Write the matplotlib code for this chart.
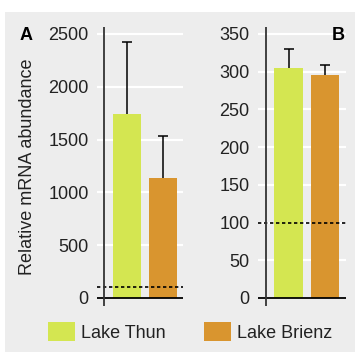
import matplotlib
matplotlib.use("Agg")
import matplotlib.pyplot as plt
from matplotlib.patches import Patch, Rectangle

plt.rcParams['font.family'] = ['Liberation Sans', 'DejaVu Sans']

lakes = ["Lake Thun", "Lake Brienz"]
colors = ["#d4e651", "#d9952f"]

# panel A: mean and upper error
a_mean = [1742, 1140]
a_err = [682, 394]
a_ticks = [0, 500, 1000, 1500, 2000, 2500]

# panel B
b_mean = [305, 296]
b_err = [25, 13]
b_ticks = [0, 50, 100, 150, 200, 250, 300, 350]

baseline = 100

W, H = 355, 352
fig = plt.figure(figsize=(W / 100, H / 100), dpi=100)
fig.patch.set_facecolor("white")
fig.patches.append(Rectangle((5 / W, 0), 1 - 5 / W, 1 - 12 / H,
                             transform=fig.transFigure, facecolor="#ededed",
                             edgecolor="none", zorder=-10))


def panel(rect, means, errs, ticks, ylim, xlim, spine_x, letter, letter_x):
    ax = fig.add_axes([rect[0] / W, 1 - rect[3] / H, (rect[2] - rect[0]) / W,
                       (rect[3] - rect[1]) / H])
    ax.set_facecolor("none")
    for s in ax.spines.values():
        s.set_visible(False)
    ax.set_ylim(*ylim)
    ax.set_xlim(*xlim)
    for t in ticks[1:]:
        ax.axhline(t, color="white", lw=1.6, zorder=1)
    ax.bar(range(len(means)), means, width=0.78, color=colors, zorder=2)
    eb = ax.errorbar(range(len(means)), means, yerr=[[0] * len(errs), errs],
                     fmt="none", ecolor="black", elinewidth=1.1, capsize=3.5,
                     capthick=1.1, zorder=3)
    # only the upper whisker gets a cap
    eb[1][0].set_visible(False)
    ax.axhline(baseline, color="black", lw=1.2, ls=(0, (2, 1.6)), zorder=4)
    ax.axhline(0, color="black", lw=1.3, zorder=4)
    ax.axvline(spine_x, color="#333333", lw=1.3, zorder=4)
    ax.set_xticks([])
    ax.set_yticks(ticks)
    ax.set_yticklabels([str(t) for t in ticks])
    ax.tick_params(axis="y", length=0, pad=6, labelsize=13, labelcolor="#222222")
    fig.text(letter_x / W, 1 - 36 / H, letter, fontsize=13, fontweight="bold",
             ha="left", va="center")
    return ax


axA = panel((97, 27, 183, 306), a_mean, a_err, a_ticks, (-76, 2566),
            (-0.833, 1.556), -0.639, "A", 20)
axA.set_ylabel("Relative mRNA abundance", fontsize=13, color="#222222", labelpad=8.5)

axB = panel((258, 27, 346, 306), b_mean, b_err, b_ticks, (-10.6, 359),
            (-0.836, 1.575), -0.616, "B", 332)

handles = [Patch(facecolor=c, edgecolor="none") for c in colors]
fig.legend(handles, lakes, loc="center", bbox_to_anchor=(190 / W, 1 - 332 / H),
           ncol=2, frameon=False, fontsize=13, handlelength=1.5,
           handleheight=1.2, handletextpad=0.35, columnspacing=2.1,
           labelcolor="#222222")

fig.savefig("out.png", dpi=100)
